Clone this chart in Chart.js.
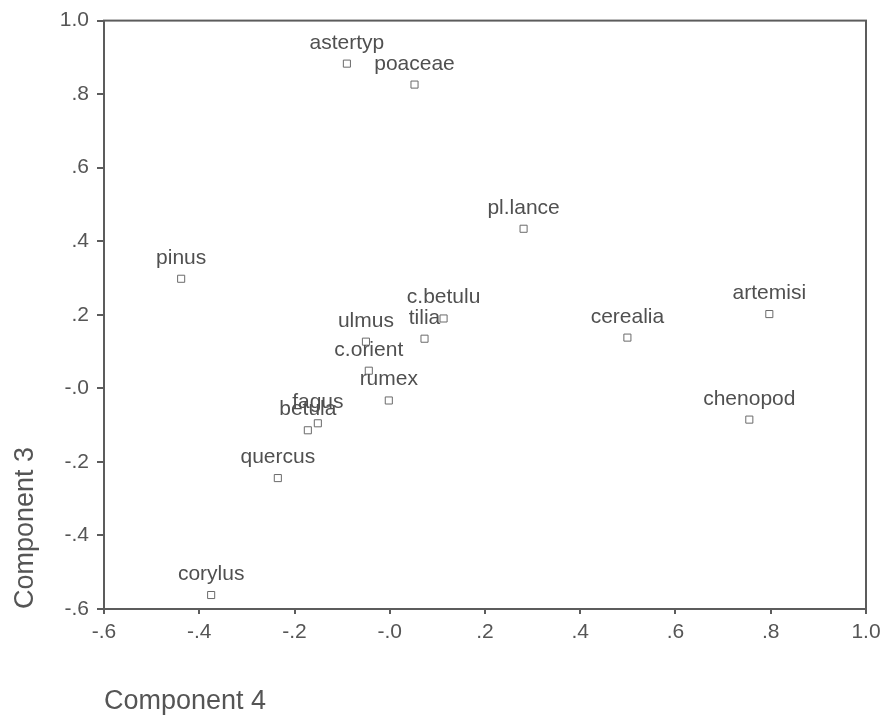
<!DOCTYPE html>
<html lang="en">
<head>
  <meta charset="UTF-8">
  <title>Component 4 vs Component 3</title>
  <script src="https://cdn.jsdelivr.net/npm/chart.js"></script>
  <style>
    html, body { margin: 0; padding: 0; background: #fff; }
    #wrap { width: 887px; height: 718px; }
  </style>
</head>
<body>
  <div id="wrap"><canvas id="plot"></canvas></div>

  <script>
    // taxa and their loadings
    const taxa = ['astertyp', 'poaceae', 'pl.lance', 'pinus', 'c.betulu', 'tilia', 'ulmus', 'c.orient',
                  'rumex', 'fagus', 'betula', 'quercus', 'corylus', 'cerealia', 'artemisi', 'chenopod'];
    const comp4 = [-0.090, 0.052, 0.281, -0.438, 0.113, 0.073, -0.050, -0.044,
                   -0.002, -0.151, -0.172, -0.235, -0.375, 0.499, 0.797, 0.755];
    const comp3 = [0.883, 0.826, 0.434, 0.298, 0.190, 0.135, 0.127, 0.048,
                   -0.033, -0.095, -0.114, -0.244, -0.562, 0.138, 0.202, -0.085];

    const xTickLabels = ['-.6', '-.4', '-.2', '-.0', '.2', '.4', '.6', '.8', '1.0'];
    const yTickLabels = ['-.6', '-.4', '-.2', '-.0', '.2', '.4', '.6', '.8', '1.0'];

    const FONT = "'Liberation Sans', Arial, sans-serif";
    const AXIS = '#5c5c5c';
    const TEXT = '#555555';

    const tickText = labels => v => labels[Math.round((v + 0.6) * 5)];

    // frame on top/right + point names
    const extras = {
      id: 'extras',
      afterDatasetsDraw(chart) {
        const ctx = chart.ctx;
        const a = chart.chartArea;
        ctx.save();
        ctx.strokeStyle = AXIS;
        ctx.lineWidth = 2;
        ctx.strokeRect(a.left, a.top, a.right - a.left, a.bottom - a.top);

        ctx.fillStyle = '#505050';
        ctx.font = '21px ' + FONT;
        ctx.textAlign = 'center';
        ctx.textBaseline = 'alphabetic';
        chart.getDatasetMeta(0).data.forEach((pt, i) => {
          ctx.fillText(taxa[i], pt.x, pt.y - 15);
        });
        ctx.restore();
      }
    };

    new Chart(document.getElementById('plot'), {
      type: 'scatter',
      data: {
        datasets: [{
          data: comp4.map((x, i) => ({ x: x, y: comp3[i] })),
          pointStyle: 'rect',
          pointRadius: 5,
          pointHoverRadius: 5,
          borderWidth: 1,
          borderColor: '#6a6a6a',
          backgroundColor: '#ffffff'
        }]
      },
      options: {
        responsive: true,
        maintainAspectRatio: false,
        animation: false,
        layout: { padding: { top: 19, right: 21, left: 0, bottom: 0 } },
        plugins: { legend: { display: false }, tooltip: { enabled: false } },
        scales: {
          x: {
            type: 'linear',
            min: -0.6, max: 1.0,
            afterFit: s => { s.height = 109; },
            grid: { drawOnChartArea: false, drawTicks: true, tickLength: 5, color: AXIS, lineWidth: 2 },
            border: { display: true, color: AXIS, width: 2 },
            ticks: { stepSize: 0.2, color: TEXT, font: { family: FONT, size: 21 }, padding: 6,
                     callback: tickText(xTickLabels), maxRotation: 0 },
            title: { display: true, text: 'Component 4', align: 'start', color: TEXT,
                     font: { family: FONT, size: 27 }, padding: { top: 4, bottom: 0 } }
          },
          y: {
            type: 'linear',
            min: -0.6, max: 1.0,
            afterFit: s => { s.width = 104; },
            grid: { drawOnChartArea: false, drawTicks: true, tickLength: 7, color: AXIS, lineWidth: 2 },
            border: { display: true, color: AXIS, width: 2 },
            ticks: { stepSize: 0.2, color: TEXT, font: { family: FONT, size: 21 }, padding: 8,
                     callback: tickText(yTickLabels) },
            title: { display: true, text: 'Component 3', align: 'start', color: TEXT,
                     font: { family: FONT, size: 27 }, padding: { top: 9, bottom: 0 } }
          }
        }
      },
      plugins: [extras]
    });
  </script>
</body>
</html>
